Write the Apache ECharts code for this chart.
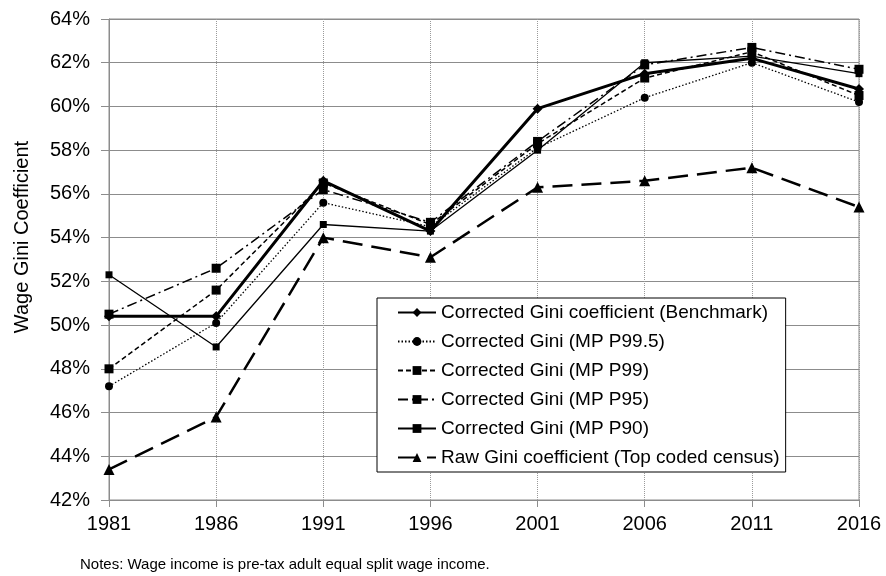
<!DOCTYPE html>
<html>
<head>
<meta charset="utf-8">
<script src="https://cdn.jsdelivr.net/npm/echarts@6/dist/echarts.min.js"></script>
<style>
  html, body { margin: 0; padding: 0; background: #fff; }
  #chart { width: 886px; height: 576px; }
</style>
</head>
<body>
<div id="chart"></div>
<script>
  var years = ['1981', '1986', '1991', '1996', '2001', '2006', '2011', '2016'];
  var benchmark = [50.4, 50.4, 56.6, 54.3, 59.9, 61.5, 62.2, 60.8];
  var p995 = [47.2, 50.1, 55.6, 54.5, 58.1, 60.4, 62.0, 60.2];
  var p99 = [48.0, 51.6, 56.5, 54.6, 58.3, 61.3, 62.5, 60.5];
  var p95 = [50.5, 52.6, 56.2, 54.7, 58.4, 61.9, 62.7, 61.7];
  var p90 = [52.3, 49.0, 54.6, 54.3, 58.0, 62.0, 62.3, 61.5];
  var raw = [43.4, 45.8, 54.0, 53.1, 56.3, 56.6, 57.2, 55.4];
  var yTicks = { min: 42, max: 64, step: 2 };

  var font = 'Liberation Sans, Arial, sans-serif';
  var chart = echarts.init(document.getElementById('chart'));

  function line(name, data, lineType, width, symbol, size) {
    return {
      name: name,
      type: 'line',
      data: data,
      symbol: symbol,
      symbolSize: size,
      showAllSymbol: true,
      animation: false,
      lineStyle: { color: '#000', width: width, type: lineType },
      itemStyle: { color: '#000' }
    };
  }

  var option = {
    animation: false,
    textStyle: { fontFamily: font },
    grid: {
      left: 109, right: 27, top: 19, bottom: 76,
      show: true, borderColor: '#8c8c8c', borderWidth: 1
    },
    legend: {
      orient: 'vertical',
      left: 377,
      top: 298,
      padding: [5, 6, 5, 20],
      itemGap: 10,
      itemWidth: 38,
      itemHeight: 11,
      backgroundColor: '#fff',
      borderColor: '#000',
      borderWidth: 1,
      textStyle: { fontSize: 19, color: '#000', fontFamily: font },
      data: [
        'Corrected Gini coefficient (Benchmark)',
        'Corrected Gini (MP P99.5)',
        'Corrected Gini (MP P99)',
        'Corrected Gini (MP P95)',
        'Corrected Gini (MP P90)',
        'Raw Gini coefficient (Top coded census)'
      ]
    },
    xAxis: {
      type: 'category',
      data: years,
      boundaryGap: false,
      axisLine: { lineStyle: { color: '#8c8c8c' } },
      axisTick: { show: true, length: 7, lineStyle: { color: '#8c8c8c' } },
      axisLabel: { fontSize: 20, color: '#000', margin: 14 },
      splitLine: { show: true, lineStyle: { color: '#9a9a9a', type: 'dotted' } }
    },
    yAxis: {
      type: 'value',
      min: yTicks.min,
      max: yTicks.max,
      interval: yTicks.step,
      axisLine: { show: true, lineStyle: { color: '#8c8c8c' } },
      axisTick: { show: true, length: 8, lineStyle: { color: '#8c8c8c' } },
      axisLabel: { fontSize: 20, color: '#000', margin: 19, formatter: '{value}%' },
      splitLine: { lineStyle: { color: '#8c8c8c', width: 1 } }
    },
    graphic: [{
      type: 'text',
      x: 22,
      y: 237,
      rotation: Math.PI / 2,
      style: {
        text: 'Wage Gini Coefficient',
        fontSize: 20, fill: '#000', fontFamily: font,
        align: 'center', verticalAlign: 'middle'
      }
    }, {
      type: 'text',
      x: 80,
      y: 565,
      style: {
        text: 'Notes: Wage income is pre-tax adult equal split wage income.',
        fontSize: 15, fill: '#000', fontFamily: font,
        verticalAlign: 'middle'
      }
    }],
    series: [
      line('Corrected Gini coefficient (Benchmark)', benchmark, 'solid', 3, 'diamond', 10),
      line('Corrected Gini (MP P99.5)', p995, [1.5, 2], 1.3, 'circle', 8),
      line('Corrected Gini (MP P99)', p99, [5, 3], 1.5, 'rect', 9),
      line('Corrected Gini (MP P95)', p95, [10, 4, 2, 4], 1.5, 'rect', 9),
      line('Corrected Gini (MP P90)', p90, 'solid', 1.3, 'rect', 7),
      line('Raw Gini coefficient (Top coded census)', raw, [20, 9], 2.5, 'triangle', 11)
    ]
  };

  chart.setOption(option);
</script>
</body>
</html>
